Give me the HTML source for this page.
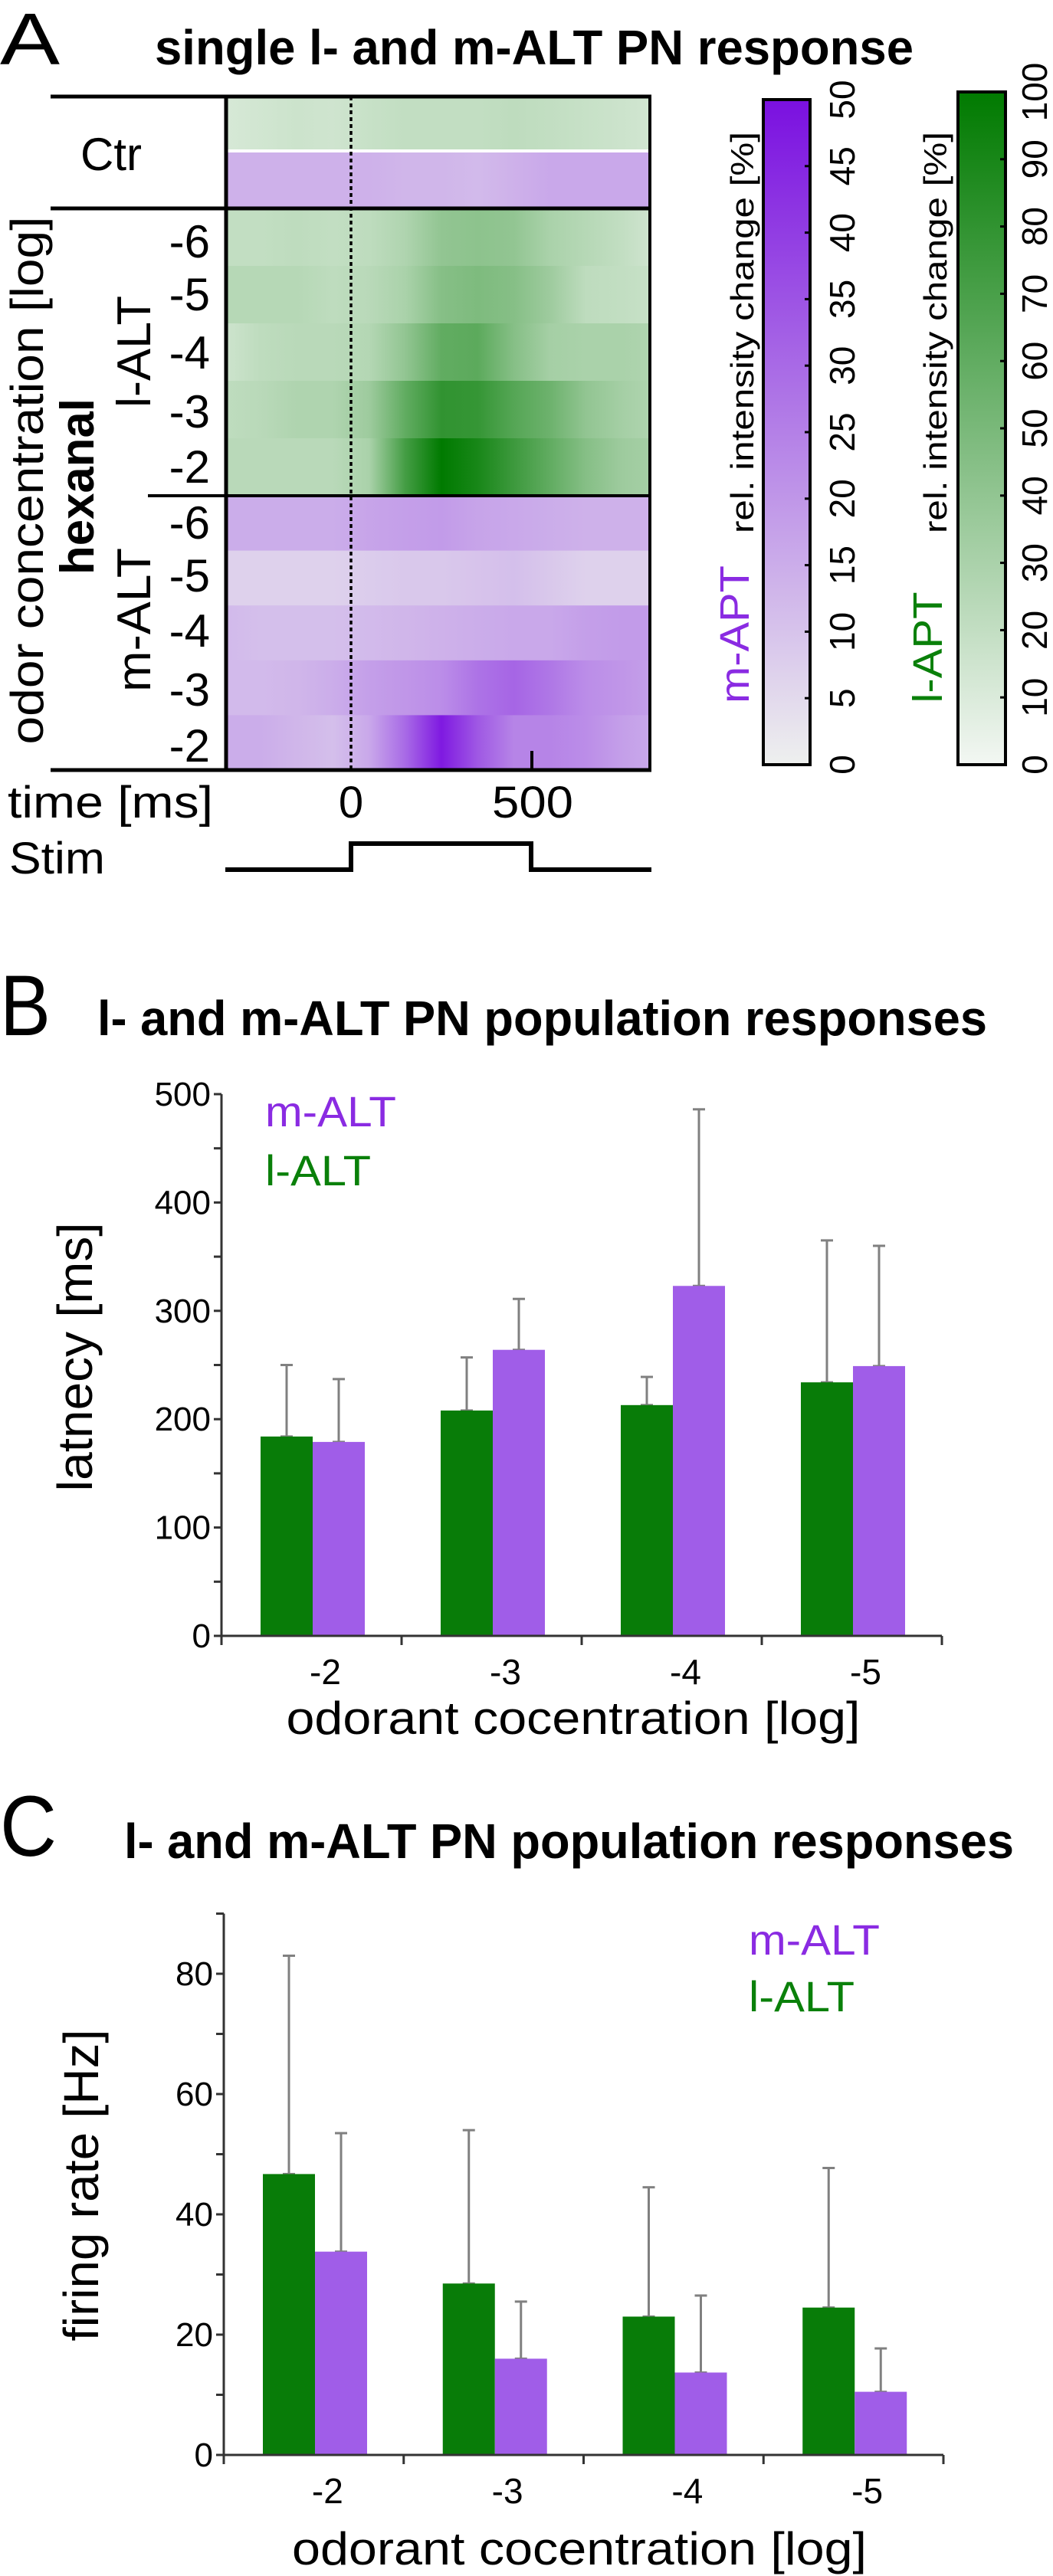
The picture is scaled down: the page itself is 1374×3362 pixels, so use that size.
<!DOCTYPE html>
<html><head><meta charset="utf-8">
<style>
html,body{margin:0;padding:0;background:#fff;}
svg{display:block;font-family:"Liberation Sans",Arial,sans-serif;}
</style></head>
<body>
<svg id="fig" width="1374" height="3362" viewBox="0 0 1374 3362" xmlns="http://www.w3.org/2000/svg">
<defs id="defs"></defs>
<text x="0" y="84" font-size="96" textLength="78" lengthAdjust="spacingAndGlyphs">A</text>
<text x="202" y="84" font-size="64" font-weight="bold" textLength="990" lengthAdjust="spacingAndGlyphs">single l- and m-ALT PN response</text>
<g id="heat"></g>
<g stroke="#000" fill="none">
  <line x1="66" y1="126" x2="850" y2="126" stroke-width="5"/>
  <line x1="66" y1="272" x2="850" y2="272" stroke-width="5"/>
  <line x1="193" y1="647" x2="850" y2="647" stroke-width="4"/>
  <line x1="66" y1="1005" x2="850" y2="1005" stroke-width="5"/>
  <line x1="295" y1="126" x2="295" y2="1005" stroke-width="5"/>
  <line x1="848" y1="126" x2="848" y2="1005" stroke-width="4"/>
  <line x1="458" y1="126" x2="458" y2="1005" stroke-width="3.5" stroke-dasharray="5,4"/>
  <line x1="694" y1="980" x2="694" y2="1005" stroke-width="4"/>
</g>
<text x="145" y="222" font-size="60" text-anchor="middle">Ctr</text>
<g font-size="60" text-anchor="end">
  <text x="274" y="336">-6</text><text x="274" y="405">-5</text><text x="274" y="481">-4</text><text x="274" y="558">-3</text><text x="274" y="630">-2</text>
  <text x="274" y="703">-6</text><text x="274" y="772">-5</text><text x="274" y="844">-4</text><text x="274" y="921">-3</text><text x="274" y="994">-2</text>
</g>
<text transform="translate(56,627) rotate(-90)" font-size="60" text-anchor="middle" textLength="689" lengthAdjust="spacingAndGlyphs">odor concentration [log]</text>
<text transform="translate(122,635) rotate(-90)" font-size="62" font-weight="bold" text-anchor="middle" textLength="230" lengthAdjust="spacingAndGlyphs">hexanal</text>
<text transform="translate(196,459) rotate(-90)" font-size="62" text-anchor="middle" textLength="146" lengthAdjust="spacingAndGlyphs">l-ALT</text>
<text transform="translate(196,809) rotate(-90)" font-size="62" text-anchor="middle" textLength="188" lengthAdjust="spacingAndGlyphs">m-ALT</text>
<text x="10" y="1067" font-size="58" textLength="268" lengthAdjust="spacingAndGlyphs">time [ms]</text>
<text x="458" y="1067" font-size="58" text-anchor="middle">0</text>
<text x="695" y="1067" font-size="58" text-anchor="middle" textLength="106" lengthAdjust="spacingAndGlyphs">500</text>
<text x="12" y="1140" font-size="58" textLength="125" lengthAdjust="spacingAndGlyphs">Stim</text>
<polyline points="294,1135 458,1135 458,1101 693,1101 693,1135 850,1135" fill="none" stroke="#000" stroke-width="6"/>
<g id="cbars"></g>
<text x="0" y="1351" font-size="112" textLength="66" lengthAdjust="spacingAndGlyphs">B</text>
<text x="127" y="1351" font-size="64" font-weight="bold" textLength="1161" lengthAdjust="spacingAndGlyphs">l- and m-ALT PN population responses</text>
<g id="chartB"></g>
<text x="0" y="2422" font-size="112" textLength="74" lengthAdjust="spacingAndGlyphs">C</text>
<text x="162" y="2425" font-size="64" font-weight="bold" textLength="1161" lengthAdjust="spacingAndGlyphs">l- and m-ALT PN population responses</text>
<g id="chartC"></g>
</svg>
<script>
// ---------- Heatmap data ----------
const heatTimes = [-340,-250,-150,-50,50,150,250,350,450,550,650,750,830];
const ctrGreen  = [12,14,16,15,18,20,20,20,22,20,18,16,14];
const ctrPurple = [14,14,14,14,14,13,13,12,14,16,16,16,16];
const lAltRows = [
  [20,20,22,20,22,28,40,42,40,30,25,20,15],
  [25,25,25,22,24,30,45,48,45,35,22,20,18],
  [16,22,24,24,26,40,60,62,45,32,30,30,28],
  [22,24,28,28,35,60,80,78,65,55,40,32,28],
  [24,24,24,24,30,72,100,90,75,60,45,35,32]
];
const mAltRows = [
  [15,15,15,15,17,18,19,17,16,15,14,14,14],
  [7,7,7,7,8,9,9,10,11,9,7,7,7],
  [12,11,11,11,12,13,14,15,16,16,18,19,19],
  [12,12,13,15,18,20,22,28,31,27,22,20,18],
  [15,15,13,11,16,30,48,34,24,24,22,18,16]
];
// ---------- bar chart data ----------
const categories = ["-2","-3","-4","-5"];
const latencyL = [184,208,213,234];
const latencyM = [179,264,323,249];
const latencyLErr = [250,257,239,365];
const latencyMErr = [237,311,486,360];
const latencyTicks = [0,100,200,300,400,500];
const rateL = [46.7,28.5,23,24.5];
const rateM = [33.8,16,13.7,10.5];
const rateLErr = [83,54,44.5,47.7];
const rateMErr = [53.5,25.5,26.5,17.7];
const rateTicks = [0,20,40,60,80];
const mColorbarTicks = [0,5,10,15,20,25,30,35,40,45,50];
const lColorbarTicks = [0,10,20,30,40,50,60,70,80,90,100];

const NS = "http://www.w3.org/2000/svg";
function mk(tag, attrs, parent){
  const e = document.createElementNS(NS, tag);
  for (const k in attrs) e.setAttribute(k, attrs[k]);
  parent.appendChild(e); return e;
}
function mix(c0, c1, f){
  f = Math.max(0, Math.min(1, f));
  return "rgb(" + c0.map((v,i)=>Math.round(v+(c1[i]-v)*f)).join(",") + ")";
}
const G0=[243,247,243], G1=[0,122,0];
const P0=[238,240,238], P1=[122,16,224];
const greenC = v => mix(G0,G1,v/100);
const purpleC = v => mix(P0,P1,v/50);

const hx0 = 295, hx1 = 848;
const tx = t => 458 + (t/500)*236;
const defs = document.getElementById('defs');
const heat = document.getElementById('heat');
let gid = 0;
function heatRow(vals, colorFn, y, h, name){
  const id = 'hg' + (gid++);
  const lg = mk('linearGradient', {id:id, x1:hx0, x2:hx1, y1:0, y2:0, gradientUnits:'userSpaceOnUse'}, defs);
  vals.forEach((v,i)=>{
    mk('stop', {offset: ((tx(heatTimes[i])-hx0)/(hx1-hx0)).toFixed(4), 'stop-color': colorFn(v)}, lg);
  });
  const r = mk('rect', {x:hx0, y:y, width:hx1-hx0, height:h, fill:'url(#'+id+')'}, heat);
  
  
}
heatRow(ctrGreen, greenC, 126, 69, 'ctr-green-row');
heatRow(ctrPurple, purpleC, 199, 73, 'ctr-purple-row');
const lConc = ["-6","-5","-4","-3","-2"];
const lTop = 272, lH = (647-272)/5;
lAltRows.forEach((r,i)=>heatRow(r, greenC, lTop+i*lH, lH+0.5, 'l-alt-row-'+lConc[i]));
const mTop = 647, mH = (1005-647)/5;
mAltRows.forEach((r,i)=>heatRow(r, purpleC, mTop+i*mH, mH+0.5, 'm-alt-row-'+lConc[i]));

const cb = document.getElementById('cbars');
function colorbar(x0, x1, yTop, yBot, maxV, c0, c1, ticks, tickX, labelX, nameLabel, nameColor, nameX, nameY, nameLen, name){
  const id = 'cbg' + (gid++);
  const lg = mk('linearGradient', {id:id, x1:0, x2:0, y1:1, y2:0}, defs);
  mk('stop', {offset:0, 'stop-color':mix(c0,c1,0)}, lg);
  mk('stop', {offset:1, 'stop-color':mix(c0,c1,1)}, lg);
  const g = mk('g', {}, cb);
  
  
  mk('rect', {x:x0, y:yTop, width:x1-x0, height:yBot-yTop, fill:'url(#'+id+')', stroke:'#000', 'stroke-width':4}, g);
  const sy = v => yBot - (v/maxV)*(yBot-yTop);
  ticks.forEach(v=>{
    const y = sy(v);
    if (v>0 && v<maxV) mk('line', {x1:x1-7, x2:x1, y1:y, y2:y, stroke:'#000', 'stroke-width':3}, g);
    const t = mk('text', {transform:'translate('+tickX+','+y+') rotate(-90)', 'font-size':46, 'text-anchor':'middle'}, g);
    t.textContent = v;
    
    
  });
  const l = mk('text', {transform:'translate('+labelX+',434) rotate(-90)', 'font-size':42, 'text-anchor':'middle', textLength:524, lengthAdjust:'spacingAndGlyphs'}, g);
  l.textContent = 'rel. intensity change [%]';
  
  
  const n = mk('text', {transform:'translate('+nameX+','+nameY+') rotate(-90)', 'font-size':54, 'text-anchor':'middle', fill:nameColor, textLength:nameLen, lengthAdjust:'spacingAndGlyphs'}, g);
  n.textContent = nameLabel;
  
  
}
colorbar(996, 1057, 130, 998, 50, P0, P1, mColorbarTicks, 1115, 983, 'm-APT', '#8a2be2', 977, 828, 180, 'm-apt-colorbar');
colorbar(1250, 1312, 120, 998, 100, G0, G1, lColorbarTicks, 1366, 1235, 'l-APT', '#0a800a', 1229, 845, 145, 'l-apt-colorbar');

function barChart(gEl, o){
  const ys = v => o.y0 - (v/o.vmax)*(o.y0-o.yTopV);
  const groupW = (o.x1-o.x0)/categories.length;
  const ax = mk('g', {stroke:'#333', 'stroke-width':3}, gEl);
  
  
  mk('line', {x1:o.x0, x2:o.x0, y1:o.y0, y2:ys(o.axisMax)}, ax);
  for (let v=0; v<=o.axisMax+1e-9; v+=o.minor){
    mk('line', {x1:o.x0-10, x2:o.x0, y1:ys(v), y2:ys(v)}, ax);
  }
  for (let i=0;i<=categories.length;i++){
    const x = o.x0 + i*groupW;
    mk('line', {x1:x, x2:x, y1:o.y0, y2:o.y0+12}, ax);
  }
  o.ticks.forEach(v=>{
    const t = mk('text', {x:o.x0-14, y:ys(v)+15, 'font-size':44, 'text-anchor':'end'}, gEl);
    t.textContent = v;
    
    
  });
  categories.forEach((c,i)=>{
    const gx = o.x0 + i*groupW;
    const bw = 68;
    const xl = gx + 51, xm = xl + bw;
    [[xl, o.L[i], o.LE[i]], [xm, o.M[i], o.ME[i]]].forEach(([x,v,e])=>{
      const cx = x + bw/2;
      const eb = mk('g', {stroke:'#808080', 'stroke-width':3}, gEl);
      
      
      mk('line', {x1:cx, x2:cx, y1:ys(v), y2:ys(e)}, eb);
      mk('line', {x1:cx-8, x2:cx+8, y1:ys(e), y2:ys(e)}, eb);
      mk('line', {x1:cx-8, x2:cx+8, y1:ys(v), y2:ys(v)}, eb);
    });
    const b1 = mk('rect', {x:xl, y:ys(o.L[i]), width:bw, height:o.y0-ys(o.L[i]), fill:'#087c08'}, gEl);
    
    
    const b2 = mk('rect', {x:xm, y:ys(o.M[i]), width:bw, height:o.y0-ys(o.M[i]), fill:'#a05de8'}, gEl);
    
    
    const t = mk('text', {x:gx+groupW/2+18, y:o.xTickY, 'font-size':46, 'text-anchor':'middle'}, gEl);
    t.textContent = c;
    
    
  });
  mk('line', {x1:o.x0, x2:o.x1, y1:o.y0, y2:o.y0, stroke:'#333', 'stroke-width':3}, gEl);
  const xt = mk('text', {x:o.xTitleX, y:o.xTitleY, 'font-size':60, 'text-anchor':'middle', textLength:o.xTitleLen, lengthAdjust:'spacingAndGlyphs'}, gEl);
  xt.textContent = 'odorant cocentration [log]';
  
  
  const yt = mk('text', {transform:'translate('+o.yTitleX+','+o.yTitleY+') rotate(-90)', 'font-size':64, 'text-anchor':'middle', textLength:o.yTitleLen, lengthAdjust:'spacingAndGlyphs'}, gEl);
  yt.textContent = o.yTitle;
  
  
  const lm = mk('text', {x:o.legX, y:o.legY1, 'font-size':56, fill:'#8a2be2', textLength:171, lengthAdjust:'spacingAndGlyphs'}, gEl);
  lm.textContent = 'm-ALT';
  
  
  const ll = mk('text', {x:o.legX, y:o.legY2, 'font-size':56, fill:'#0a800a', textLength:138, lengthAdjust:'spacingAndGlyphs'}, gEl);
  ll.textContent = 'l-ALT';
  
  
}
barChart(document.getElementById('chartB'), {
  x0:289, x1:1229, y0:2135, yTopV:1428, vmax:500, axisMax:500, minor:50, ticks:latencyTicks,
  L:latencyL, M:latencyM, LE:latencyLErr, ME:latencyMErr, xTickY:2198,
  xTitleX:748, xTitleY:2263, xTitleLen:749, yTitle:'latnecy [ms]', yTitleX:120, yTitleY:1771, yTitleLen:351,
  legX:346, legY1:1470, legY2:1547
});
barChart(document.getElementById('chartC'), {
  x0:292, x1:1231, y0:3204, yTopV:2576, vmax:80, axisMax:90, minor:10, ticks:rateTicks,
  L:rateL, M:rateM, LE:rateLErr, ME:rateMErr, xTickY:3267,
  xTitleX:756, xTitleY:3347, xTitleLen:750, yTitle:'firing rate [Hz]', yTitleX:128, yTitleY:2852, yTitleLen:407,
  legX:977, legY1:2551, legY2:2625
});
</script>
</body></html>
